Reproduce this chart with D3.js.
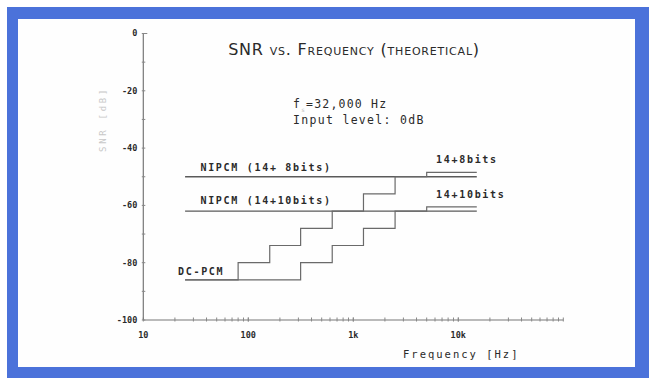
<!DOCTYPE html>
<html>
<head>
<meta charset="utf-8">
<script src="https://cdn.jsdelivr.net/npm/d3@7"></script>
<style>
  body { margin: 0; background: #fff; }
  svg { display: block; }
  .mono { font-family: "DejaVu Sans Mono", monospace; fill: #2a2a2a; }
</style>
</head>
<body>
<div id="chart"></div>
<script>
// x ticks (Hz) and labels
const xLabelTicks = [10, 100, 1000, 10000];
const xLabelText = ["10", "100", "1k", "10k"];
// y ticks (dB)
const yMinorTicks = [0, -10, -20, -30, -40, -50, -60, -70, -80, -90, -100];
const yLabelTicks = [0, -20, -40, -60, -80, -100];

// NIPCM flat lines
const nipcm8 = [[25, -50], [15000, -50]];
const nipcm10 = [[25, -62], [15000, -62]];
// DC-PCM staircases (step after)
const dcpcmA = [[25, -86], [80, -80], [160, -74], [315, -68], [630, -62], [1250, -56], [2500, -50], [5000, -48.5], [15000, -48.5]];
const dcpcmB = [[25, -86], [315, -80], [630, -74], [1250, -68], [2500, -62], [5000, -60.5], [15000, -60.5]];

// text labels: [text, freq, dB, dy]
const lineLabels = [
  ["NIPCM (14+ 8bits)", 35, -50, -6],
  ["NIPCM (14+10bits)", 35, -62, -7.5],
  ["DC-PCM", 21.4, -86, -5],
  ["14+8bits", 6140, -48.5, -9],
  ["14+10bits", 6140, -60.5, -9]
];

const width = 649, height = 378;
const svg = d3.select("#chart").append("svg")
  .attr("width", width)
  .attr("height", height);

// blue frame
svg.append("rect").attr("x", 7).attr("y", 7).attr("width", width - 7).attr("height", height - 7).attr("fill", "#4b72da");
svg.append("rect").attr("x", 18).attr("y", 19).attr("width", 617).attr("height", 348).attr("fill", "#fefefe");

const x = d3.scaleLog().domain([10, 100000]).range([143.3, 563.3]);
const y = d3.scaleLinear().domain([-100, 0]).range([320, 33.5]);

// minor log ticks
const xMinor = [];
for (let p = 1; p <= 4; p++) for (let m = 1; m <= 10; m++) xMinor.push(m * Math.pow(10, p));

// x axis
const xAxis = svg.append("g").attr("transform", `translate(0,${y(-100)})`);
xAxis.append("line").attr("x1", x(10)).attr("x2", x(100000)).attr("stroke", "#777").attr("stroke-width", 1.2);
xAxis.selectAll(".xt").data(xMinor).join("line")
  .attr("x1", d => x(d)).attr("x2", d => x(d))
  .attr("y1", -2.5).attr("y2", 1.5)
  .attr("stroke", "#888");
xAxis.selectAll(".xl").data(xLabelTicks).join("text")
  .attr("class", "mono")
  .attr("x", d => x(d)).attr("y", 17.5)
  .attr("text-anchor", "middle")
  .style("font-size", "8.5px").style("font-weight", "bold")
  .text((d, i) => xLabelText[i]);

// y axis
const yAxis = svg.append("g").attr("transform", `translate(${x(10)},0)`);
yAxis.append("line").attr("y1", y(0)).attr("y2", y(-100)).attr("stroke", "#777").attr("stroke-width", 1.2);
yAxis.selectAll(".yt").data(yMinorTicks).join("line")
  .attr("y1", d => y(d)).attr("y2", d => y(d))
  .attr("x1", -1.5).attr("x2", d => d === 0 ? 4 : 2)
  .attr("stroke", "#888");
yAxis.selectAll(".yl").data(yLabelTicks).join("text")
  .attr("class", "mono")
  .attr("x", -6).attr("y", d => y(d)).attr("dy", "0.35em")
  .attr("text-anchor", "end")
  .style("font-size", "8.5px").style("font-weight", "bold")
  .text(d => d);

// faint y label
svg.append("text")
  .attr("class", "mono")
  .attr("transform", `translate(106,${y(-30)}) rotate(-90)`)
  .attr("text-anchor", "middle")
  .style("font-size", "9px").style("fill", "#c8c8c8")
  .style("letter-spacing", "2.7px")
  .text("SNR [dB]");

// lines
const line = d3.line().x(d => x(d[0])).y(d => y(d[1]));
const step = d3.line().x(d => x(d[0])).y(d => y(d[1])).curve(d3.curveStepAfter);
[nipcm8, nipcm10].forEach(s => {
  svg.append("path").attr("d", line(s)).attr("fill", "none").attr("stroke", "#5a5a5a").attr("stroke-width", 1.3);
});
[dcpcmA, dcpcmB].forEach(s => {
  svg.append("path").attr("d", step(s)).attr("fill", "none").attr("stroke", "#6a6a6a").attr("stroke-width", 1.2);
});

// line labels
svg.selectAll(".ll").data(lineLabels).join("text")
  .attr("class", "mono")
  .attr("x", d => x(d[1])).attr("y", d => y(d[2]) + d[3])
  .style("font-size", "10px").style("font-weight", "bold")
  .style("letter-spacing", "1.7px")
  .text(d => d[0]);

// title
svg.append("text")
  .attr("x", x(1016)).attr("y", y(-7.5))
  .attr("text-anchor", "middle")
  .style("font-family", "'DejaVu Sans', sans-serif")
  .style("font-size", "16px")
  .style("font-variant", "small-caps")
  .style("fill", "#2a2a2a")
  .style("letter-spacing", "0.8px")
  .text("SNR vs. Frequency (theoretical)");

// fs and input level
const note = svg.append("text").attr("class", "mono")
  .attr("x", x(267)).attr("y", y(-26))
  .style("font-size", "11.5px").style("letter-spacing", "1.2px");
note.append("tspan").text("f");
note.append("tspan").attr("dy", 4).style("font-size", "6px").style("fill", "#bbb").text("s");
note.append("tspan").attr("dy", -4).text("=32,000 Hz");

svg.append("text").attr("class", "mono")
  .attr("x", x(267)).attr("y", y(-31.7))
  .style("font-size", "11.5px").style("letter-spacing", "1.3px")
  .text("Input level: 0dB");

// x axis title
svg.append("text").attr("class", "mono")
  .attr("x", 403).attr("y", y(-100) + 37.5)
  .style("font-size", "10.5px").style("letter-spacing", "2px")
  .text("Frequency [Hz]");
</script>
</body>
</html>
